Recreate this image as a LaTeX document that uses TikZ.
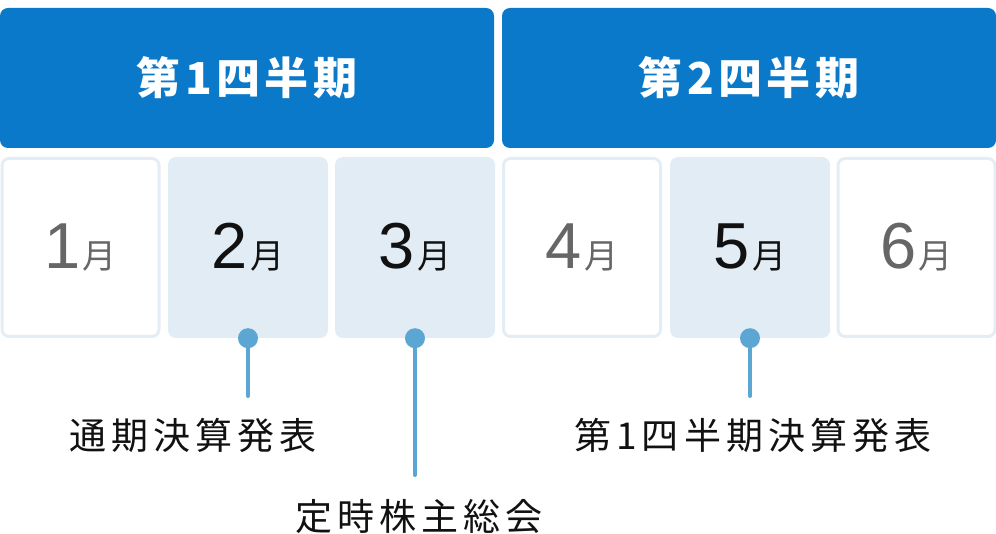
\documentclass[tikz,border=0pt]{standalone}
\usepackage{fontspec}
\setmainfont{Noto Sans CJK JP}
\newfontfamily\headfont[LetterSpace=10]{Noto Sans CJK JP}
\newfontfamily\eventfont[LetterSpace=14]{Noto Sans CJK JP}
\newfontfamily\digitfont{Liberation Sans}

\definecolor{qblue}{HTML}{0B79C9}
\definecolor{mfill}{HTML}{E1ECF5}
\definecolor{mline}{HTML}{E3EDF6}
\definecolor{dotblue}{HTML}{5BA6D3}
\definecolor{mgray}{HTML}{666666}
\definecolor{mblack}{HTML}{111111}

% 月の表記：数字は大きく、「月」は小さく
\newcommand{\mon}[1]{{\digitfont\fontsize{65}{65}\selectfont #1}\kern2pt{\fontsize{34}{34}\selectfont 月}}

\tikzset{
  quarter/.style={fill=qblue, rounded corners=8pt, minimum width=494pt,
    minimum height=140pt, text=white,
    font=\headfont\bfseries\fontsize{44}{44}\selectfont},
  monthw/.style={fill=white, draw=mline, line width=3pt, rounded corners=7pt,
    minimum width=157pt, minimum height=178pt, text=mgray},
  monthb/.style={fill=mfill, rounded corners=8pt, minimum width=160pt,
    minimum height=181pt, text=mblack},
  dot/.style={circle, fill=dotblue, minimum size=20pt, inner sep=0pt},
  lead/.style={draw=dotblue, line width=4pt},
  event/.style={text=mblack, font=\eventfont\fontsize{37}{37}\selectfont},
}

\begin{document}
\begin{tikzpicture}[x=1pt, y=1pt, line cap=round, line join=round]
    \useasboundingbox (0,0) rectangle (996,-534);

    % 四半期の見出し
    \node[quarter] (q1) at (247,-78) {第1四半期};
    \node[quarter] (q2) at (749,-78) {第2四半期};

    % 各月
    \node[monthw] (m1) at (80.5,-247.5) {\mon{1}};
    \node[monthb] (m2) at (248,-247.5) {\mon{2}};
    \node[monthb] (m3) at (415,-247.5) {\mon{3}};
    \node[monthw] (m4) at (582,-247.5) {\mon{4}};
    \node[monthb] (m5) at (750,-247.5) {\mon{5}};
    \node[monthw] (m6) at (916.5,-247.5) {\mon{6}};

    % イベントの印
    \node[dot] (d2) at (m2.south) {};
    \node[dot] (d3) at (m3.south) {};
    \node[dot] (d5) at (m5.south) {};

    % 引き出し線
    \coordinate (t2) at (248,-396);
    \coordinate (t3) at (415,-475);
    \coordinate (t5) at (750,-396);
    \draw[lead] (d2.center) -- (t2);
    \draw[lead] (d3.center) -- (t3);
    \draw[lead] (d5.center) -- (t5);

    % イベント名
    \node[event] (e2) at (193,-435) {通期決算発表};
    \node[event] (e3) at (419,-517) {定時株主総会};
    \node[event] (e5) at (753,-435) {第1四半期決算発表};
\end{tikzpicture}
\end{document}
